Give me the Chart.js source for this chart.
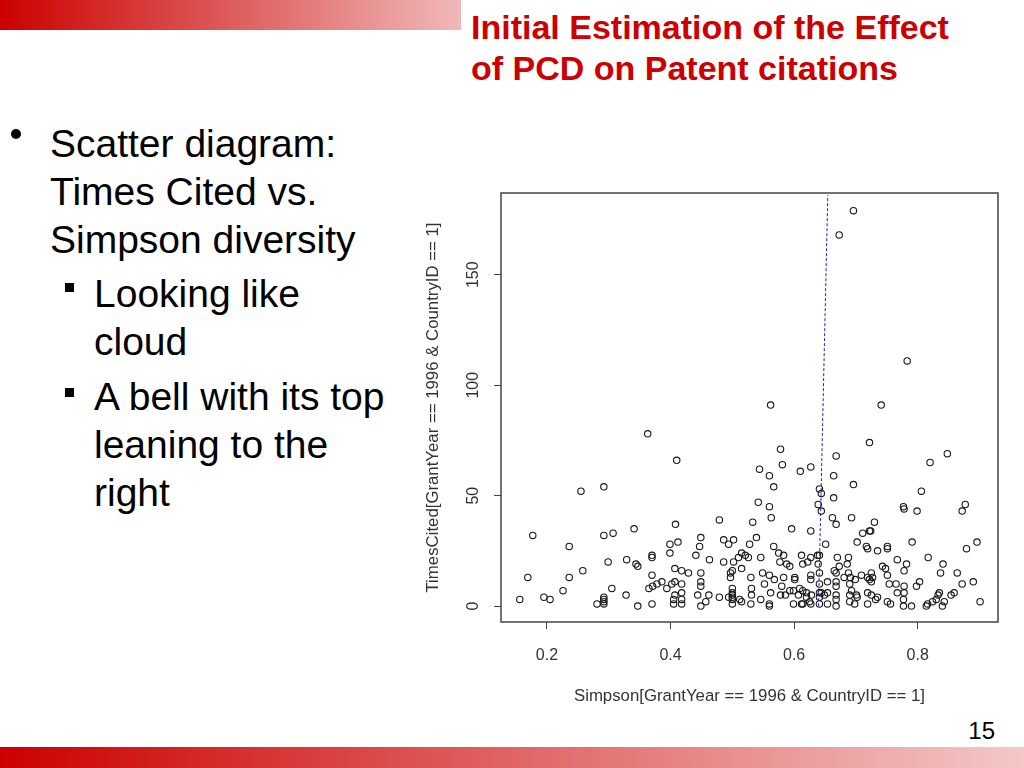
<!DOCTYPE html>
<html>
<head>
<meta charset="utf-8">
<script src="https://cdn.jsdelivr.net/npm/chart.js@4.4.1/dist/chart.umd.min.js"></script>
<style>
  html, body { margin: 0; padding: 0; }
  body { width: 1024px; height: 768px; position: relative; overflow: hidden; background: #fff;
         font-family: "Liberation Sans", Arial, sans-serif; color: #000; }
  .topbar { position: absolute; left: 0; top: 0; width: 461px; height: 30px;
            background: linear-gradient(to right, #cc0000, #f0b8b8); }
  .bottombar { position: absolute; left: 0; top: 747px; width: 1024px; height: 21px;
               background: linear-gradient(to right, #cc0000, #f4c8c8); }
  .title { position: absolute; left: 471px; top: 7px; font-size: 34px; line-height: 41px;
           font-weight: bold; color: #cc0000; white-space: nowrap; }
  .txt { position: absolute; font-size: 39px; line-height: 48px; white-space: nowrap; }
  .dot { position: absolute; width: 10px; height: 10px; border-radius: 50%; background: #000; }
  .sq { position: absolute; width: 9px; height: 9px; background: #000; }
  .pagenum { position: absolute; right: 29px; top: 716px; font-size: 24px; line-height: 30px; }
  #chart { position: absolute; left: 410px; top: 185px; }
</style>
</head>
<body>
<div class="topbar"></div>
<div class="title">Initial Estimation of the Effect<br>of PCD on Patent citations</div>

<div class="dot" style="left:11px; top:129px;"></div>
<div class="txt" style="left:50px; top:120px;">Scatter diagram:<br>Times Cited vs.<br>Simpson diversity</div>
<div class="sq" style="left:65px; top:283px;"></div>
<div class="txt" style="left:94px; top:270px;">Looking like<br>cloud</div>
<div class="sq" style="left:65px; top:388px;"></div>
<div class="txt" style="left:94px; top:373px;">A bell with its top<br>leaning to the<br>right</div>

<canvas id="chart" width="605" height="530"></canvas>

<div class="pagenum">15</div>
<div class="bottombar"></div>

<script>
// Simpson diversity (x) and TimesCited (y)
const simpson = [
  0.696,0.673,0.783,0.562,0.741,0.363,0.255,0.292,0.177,0.292,0.307,0.341,0.236,0.299,0.329,0.344,0.347,0.370,0.370,0.169,
  0.236,0.258,0.370,0.226,0.305,0.365,0.371,0.378,0.156,0.195,0.205,0.328,0.281,0.292,0.292,0.292,0.292,0.347,0.370,
  0.410,0.578,0.581,0.544,0.560,0.567,0.610,0.627,0.542,0.560,0.563,0.479,0.533,0.408,0.596,0.627,0.449,0.486,0.502,0.539,
  0.399,0.412,0.447,0.494,0.441,0.399,0.528,0.515,0.521,0.510,0.526,0.567,0.546,0.463,0.486,0.502,0.575,0.583,0.577,0.588,
  0.593,0.612,0.627,0.614,0.622,0.638,0.627,0.407,0.418,0.429,0.407,0.418,0.402,0.386,0.394,0.449,0.449,0.449,0.497,0.497,
  0.500,0.515,0.530,0.549,0.560,0.568,0.583,0.601,0.601,0.627,0.552,0.562,0.531,0.531,0.580,0.578,0.586,0.593,0.599,0.609,
  0.614,0.620,0.607,0.620,0.628,0.625,0.627,0.614,0.407,0.418,0.418,0.405,0.405,0.418,0.444,0.462,0.457,0.449,0.479,0.494,
  0.500,0.500,0.500,0.500,0.500,0.500,0.512,0.515,0.530,0.546,0.560,0.560,0.599,0.612,
  0.722,0.668,0.820,0.848,0.664,0.696,0.641,0.644,0.639,0.644,0.664,0.806,0.777,0.778,0.799,0.877,0.872,0.662,0.668,0.693,
  0.730,0.722,0.724,0.711,0.651,0.702,0.791,0.896,0.717,0.719,0.735,0.751,0.751,0.879,0.641,0.639,0.641,0.641,0.670,0.688,
  0.767,0.817,0.782,0.778,0.841,0.837,0.864,0.686,0.673,0.665,0.668,0.743,0.748,0.751,0.688,0.681,0.691,0.699,0.709,0.719,
  0.725,0.727,0.722,0.725,0.754,0.765,0.778,0.803,0.798,0.872,0.890,0.654,0.668,0.668,0.654,0.644,0.649,0.668,0.668,0.654,
  0.668,0.690,0.693,0.690,0.701,0.702,0.690,0.698,0.719,0.725,0.719,0.735,0.732,0.751,0.756,0.767,0.778,0.777,0.777,0.790,
  0.814,0.816,0.824,0.830,0.835,0.833,0.840,0.843,0.854,0.859,0.901,0.641,0.641,0.641
];
const timesCited = [
  179,168,111,91,91,78,52,54,32,32,33,35,27,20,21,19,18,23,22,13,
  13,16,14,7,8,8,9,10,3,4,3,5,1,4,3,2,1,0,1,
  66,71,64,62,59,54,61,63,47,45,40,39,38,37,35,34,31,30,30,31,
  28,29,27,28,23,24,28,24,23,22,22,27,22,21,20,20,24,23,20,19,
  18,23,22,19,20,23,14,17,16,15,11,10,10,11,8,15,11,9,15,13,
  16,17,13,15,14,12,13,13,12,12,10,6,8,5,9,5,5,7,7,8,
  7,6,5,4,5,2,1,1,5,6,3,3,1,1,5,5,2,0,4,4,
  8,6,5,4,3,1,3,2,1,3,1,0,1,1,
  74,68,65,69,59,55,53,51,46,43,49,52,45,44,43,46,43,40,37,40,
  38,34,34,33,28,29,29,29,27,26,25,27,26,26,23,19,15,10,22,22,
  21,22,19,16,19,15,15,19,18,16,15,18,17,14,15,13,13,12,14,13,
  15,13,12,11,10,10,9,11,9,10,11,11,11,9,6,6,5,5,3,1,
  0,10,7,5,5,4,2,1,6,5,1,4,3,2,1,6,6,3,0,0,
  0,1,2,3,6,5,0,2,5,6,2,6,4,1
];

// dashed blue reference line (two end points)
const lineX = [0.6395, 0.6545];
const lineY = [0, 186];

const xTicks = [0.2, 0.4, 0.6, 0.8];
const yTicks = [0, 50, 100, 150];
const xRange = [0.1256, 0.930];
const yRange = [-7.2, 187];

const xLabel = 'Simpson[GrantYear == 1996 & CountryID == 1]';
const yLabel = 'TimesCited[GrantYear == 1996 & CountryID == 1]';

const points = simpson.map((x, i) => ({x: x, y: timesCited[i]}));
const linePts = lineX.map((x, i) => ({x: x, y: lineY[i]}));

const boxPlugin = {
  id: 'box',
  afterDraw(chart) {
    const a = chart.chartArea, ctx = chart.ctx;
    ctx.save();
    ctx.strokeStyle = '#444';
    ctx.lineWidth = 1.5;
    ctx.strokeRect(a.left, a.top, a.right - a.left, a.bottom - a.top);
    ctx.restore();
  }
};

const tickFont = {family: '"Liberation Sans", Arial, sans-serif', size: 16};
const titleFont = {family: '"Liberation Sans", Arial, sans-serif', size: 16.8};

new Chart(document.getElementById('chart').getContext('2d'), {
  type: 'scatter',
  data: {
    datasets: [{
      data: points,
      pointStyle: 'circle',
      pointRadius: 3.2,
      pointBorderWidth: 1.1,
      pointBorderColor: '#1a1a1a',
      pointBackgroundColor: 'rgba(0,0,0,0)',
      order: 2
    }, {
      type: 'line',
      data: linePts,
      borderColor: '#2020c0',
      borderWidth: 1,
      borderDash: [3, 2],
      pointRadius: 0,
      fill: false,
      order: 1
    }]
  },
  options: {
    responsive: false,
    animation: false,
    devicePixelRatio: window.devicePixelRatio,
    layout: {padding: {top: 8, right: 17, left: 0, bottom: 0}},
    plugins: {legend: {display: false}, tooltip: {enabled: false}},
    scales: {
      x: {
        type: 'linear',
        min: xRange[0], max: xRange[1],
        afterBuildTicks: s => { s.ticks = xTicks.map(v => ({value: v})); },
        afterFit: s => { s.height = 93; s.paddingLeft = 0; s.paddingRight = 0; },
        border: {display: false},
        grid: {drawOnChartArea: false, drawTicks: true, tickLength: 7, color: '#444'},
        ticks: {font: tickFont, color: '#333', padding: 17, maxRotation: 0, autoSkip: false,
                callback: v => v.toFixed(1)},
        title: {display: true, text: xLabel, font: titleFont, color: '#333', padding: {top: 0, bottom: 9}}
      },
      y: {
        type: 'linear',
        min: yRange[0], max: yRange[1],
        afterBuildTicks: s => { s.ticks = yTicks.map(v => ({value: v})); },
        afterFit: s => { s.width = 91; s.paddingTop = 0; s.paddingBottom = 0; },
        border: {display: false},
        grid: {drawOnChartArea: false, drawTicks: true, tickLength: 7, color: '#444'},
        ticks: {font: tickFont, color: '#333', padding: 6.7, minRotation: 90, maxRotation: 90,
                crossAlign: 'center', autoSkip: false, callback: v => String(v)},
        title: {display: true, text: yLabel, font: titleFont, color: '#333', padding: {top: 13, bottom: 0}}
      }
    }
  },
  plugins: [boxPlugin]
});
</script>
</body>
</html>
